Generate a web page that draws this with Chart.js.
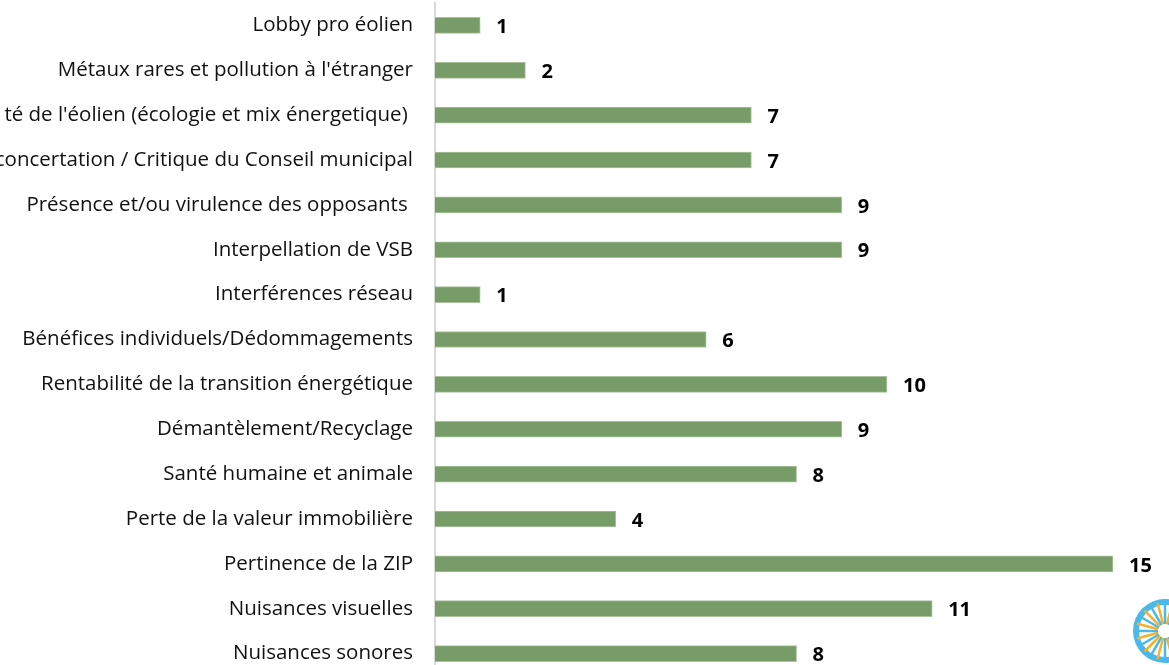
<!DOCTYPE html>
<html>
<head>
<meta charset="utf-8">
<script src="https://cdn.jsdelivr.net/npm/chart.js@4.4.0/dist/chart.umd.min.js"></script>
<style>
  html, body { margin: 0; padding: 0; background: #fff; overflow: hidden; }
  #wrap { position: relative; width: 1169px; height: 680px; }
</style>
</head>
<body>
<div id="wrap"><canvas id="chart" width="1169" height="680"></canvas></div>
<script>
// Categories, top to bottom
const categories = [
  'Lobby pro éolien',
  'Métaux rares et pollution à l\'étranger',
  'té de l\'éolien (écologie et mix énergetique) ',
  'concertation / Critique du Conseil municipal',
  'Présence et/ou virulence des opposants ',
  'Interpellation de VSB',
  'Interférences réseau',
  'Bénéfices individuels/Dédommagements',
  'Rentabilité de la transition énergétique',
  'Démantèlement/Recyclage',
  'Santé humaine et animale',
  'Perte de la valeur immobilière',
  'Pertinence de la ZIP',
  'Nuisances visuelles',
  'Nuisances sonores'
];
const counts = [1, 2, 7, 7, 9, 9, 1, 6, 10, 9, 8, 4, 15, 11, 8];

const barColor = '#789c67';
const labelFont = '"Open Sans", Lato, "Liberation Sans", sans-serif';

// Bold value labels after each bar
const valueLabels = {
  id: 'valueLabels',
  afterDatasetsDraw(chart) {
    const ctx = chart.ctx;
    const meta = chart.getDatasetMeta(0);
    ctx.save();
    ctx.font = 'bold 20px ' + labelFont;
    ctx.fillStyle = '#000';
    ctx.textAlign = 'left';
    ctx.textBaseline = 'middle';
    meta.data.forEach((bar, i) => {
      ctx.fillText(String(counts[i]), bar.x + 16, bar.y + 2);
    });
    ctx.restore();
  }
};

// Small logo in the bottom right corner (partly cut off)
const logo = {
  id: 'logo',
  afterDraw(chart) {
    const ctx = chart.ctx;
    const cx = 1165, cy = 631, r = 32;
    ctx.save();
    ctx.fillStyle = '#4ab8e8';
    ctx.beginPath();
    ctx.arc(cx, cy, r, 0, Math.PI * 2);
    ctx.fill();
    ctx.fillStyle = '#fff';
    ctx.beginPath();
    ctx.arc(cx, cy, r - 6, 0, Math.PI * 2);
    ctx.fill();
    for (let k = 0; k < 24; k++) {
      const a = k * Math.PI * 2 / 24;
      ctx.strokeStyle = k % 2 ? '#f2b230' : '#4ab8e8';
      ctx.lineWidth = 2.5;
      ctx.beginPath();
      ctx.moveTo(cx + Math.cos(a) * 7, cy + Math.sin(a) * 7);
      ctx.lineTo(cx + Math.cos(a) * (r - 3), cy + Math.sin(a) * (r - 3));
      ctx.stroke();
    }
    ctx.restore();
  }
};

new Chart(document.getElementById('chart'), {
  type: 'bar',
  data: {
    labels: categories,
    datasets: [{
      data: counts,
      backgroundColor: barColor,
      borderColor: '#a9c29c',
      borderWidth: 1,
      borderSkipped: 'left',
      barThickness: 16
    }]
  },
  options: {
    indexAxis: 'y',
    responsive: false,
    animation: false,
    layout: { padding: { top: 3, bottom: 4, right: 0, left: 0 } },
    plugins: {
      legend: { display: false },
      tooltip: { enabled: false }
    },
    scales: {
      x: {
        display: false,
        min: 0,
        max: 16.24
      },
      y: {
        afterFit(scale) {
          scale.width = 435;
          scale.paddingTop = 0;
          scale.paddingBottom = 0;
        },
        grid: { display: false, drawTicks: false },
        border: { display: true, color: '#d9d9d9', width: 2 },
        ticks: {
          padding: 22,
          color: '#111',
          font: { family: labelFont, size: 20.5 }
        }
      }
    }
  },
  plugins: [valueLabels, logo]
});
</script>
</body>
</html>
